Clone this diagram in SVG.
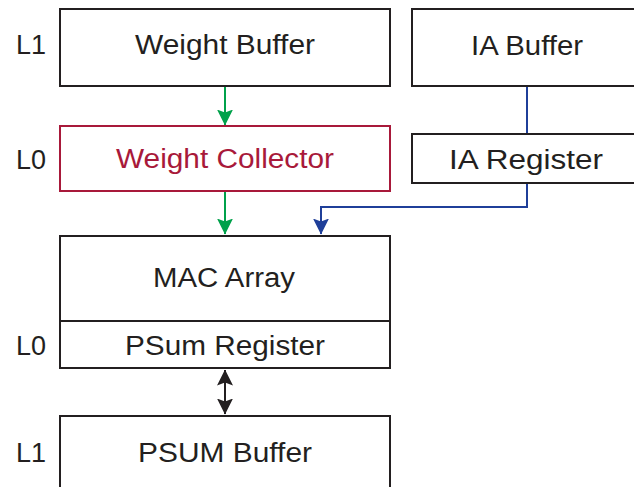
<svg xmlns="http://www.w3.org/2000/svg" width="634" height="487" viewBox="0 0 634 487">
  <style>
    .box { fill: #ffffff; stroke: #231f20; stroke-width: 2; }
    .red { stroke: #a8193a; }
    .t { font-family: "Liberation Sans", Arial, sans-serif; font-size: 27px; fill: #231f20; text-anchor: middle; }
    .lvl { font-family: "Liberation Sans", Arial, sans-serif; font-size: 27px; fill: #231f20; text-anchor: middle; }
    .green { stroke: #00a14b; stroke-width: 2; fill: none; }
    .blue { stroke: #1f3f99; stroke-width: 2; fill: none; }
    .black { stroke: #231f20; stroke-width: 2; fill: none; }
  </style>
  <defs>
    <marker id="ag" viewBox="0 0 16 16" refX="15.5" refY="8" markerWidth="16" markerHeight="16" markerUnits="userSpaceOnUse" orient="auto">
      <path d="M0,0 L16,8 L0,16 L3,8 Z" fill="#00a14b"/>
    </marker>
    <marker id="ab" viewBox="0 0 16 16" refX="15.5" refY="8" markerWidth="16" markerHeight="16" markerUnits="userSpaceOnUse" orient="auto">
      <path d="M0,0 L16,8 L0,16 L3,8 Z" fill="#1f3f99"/>
    </marker>
    <marker id="ak" viewBox="0 0 16 16" refX="15.5" refY="8" markerWidth="16" markerHeight="16" markerUnits="userSpaceOnUse" orient="auto-start-reverse">
      <path d="M0,0 L16,8 L0,16 L3,8 Z" fill="#231f20"/>
    </marker>
  </defs>
  <rect width="634" height="487" fill="#ffffff"/>

  <!-- memory level labels -->
  <g id="levels">
    <text class="lvl" x="31" y="54">L1</text>
    <text class="lvl" x="31" y="169">L0</text>
    <text class="lvl" x="31" y="355">L0</text>
    <text class="lvl" x="31" y="462">L1</text>
  </g>

  <!-- connectors -->
  <g id="connectors">
    <line class="green" x1="225" y1="86" x2="225" y2="125" marker-end="url(#ag)"/>
    <line class="green" x1="225" y1="191" x2="225" y2="234" marker-end="url(#ag)"/>
    <line class="blue" x1="527" y1="86" x2="527" y2="134"/>
    <polyline class="blue" points="527,183 527,207 321,207 321,234" marker-end="url(#ab)"/>
    <line class="black" x1="225" y1="370" x2="225" y2="414" marker-start="url(#ak)" marker-end="url(#ak)"/>
  </g>

  <g id="weight-buffer">
    <rect class="box" x="60" y="9" width="330" height="77"/>
    <text class="t" x="225" y="54" textLength="180" lengthAdjust="spacingAndGlyphs">Weight Buffer</text>
  </g>

  <g id="ia-buffer">
    <rect class="box" x="412" y="9" width="240" height="77"/>
    <text class="t" x="527" y="55" textLength="112" lengthAdjust="spacingAndGlyphs">IA Buffer</text>
  </g>

  <g id="weight-collector">
    <rect class="box red" x="60" y="126" width="330" height="65"/>
    <text class="t" x="225" y="168" style="fill:#a8193a" textLength="218" lengthAdjust="spacingAndGlyphs">Weight Collector</text>
  </g>

  <g id="ia-register">
    <rect class="box" x="412" y="134" width="240" height="49"/>
    <text class="t" x="526" y="169" textLength="154" lengthAdjust="spacingAndGlyphs">IA Register</text>
  </g>

  <g id="mac-array">
    <rect class="box" x="60" y="236" width="330" height="85"/>
    <text class="t" x="224" y="287" textLength="142" lengthAdjust="spacingAndGlyphs">MAC Array</text>
  </g>

  <g id="psum-register">
    <rect class="box" x="60" y="321" width="330" height="47"/>
    <text class="t" x="225" y="355" textLength="200" lengthAdjust="spacingAndGlyphs">PSum Register</text>
  </g>

  <g id="psum-buffer">
    <rect class="box" x="60" y="416" width="330" height="90"/>
    <text class="t" x="225" y="462" textLength="174" lengthAdjust="spacingAndGlyphs">PSUM Buffer</text>
  </g>
</svg>
